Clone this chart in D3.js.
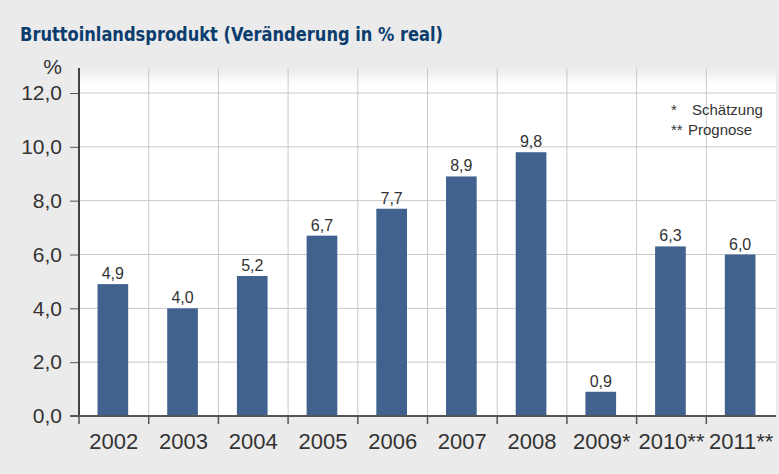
<!DOCTYPE html>
<html>
<head>
<meta charset="utf-8">
<script src="https://cdn.jsdelivr.net/npm/d3@7"></script>
<style>
  body { margin: 0; background: #ebebeb; }
  svg { display: block; }
</style>
</head>
<body>
<svg id="chart" width="779" height="474"></svg>
<script>
const years = ['2002', '2003', '2004', '2005', '2006', '2007', '2008', '2009*', '2010**', '2011**'];
const growth = [4.9, 4.0, 5.2, 6.7, 7.7, 8.9, 9.8, 0.9, 6.3, 6.0];
const yTicks = [0, 2, 4, 6, 8, 10, 12];
const noteMarks = ['*', '**'];
const noteTexts = ['Schätzung', 'Prognose'];

const svg = d3.select('#chart');
const W = 779, H = 474;
const plotL = 79, plotR = 776, plotT = 68, plotB = 416;
const fmt = v => d3.format('.1f')(v).replace('.', ',');
const font = 'Liberation Sans, Arial, sans-serif';

svg.append('rect').attr('width', W).attr('height', H).attr('fill', '#ebebeb');

// white plot area with faded top
const defs = svg.append('defs');
const grad = defs.append('linearGradient').attr('id', 'fade')
    .attr('x1', 0).attr('y1', 0).attr('x2', 0).attr('y2', 1);
grad.append('stop').attr('offset', '0%').attr('stop-color', '#ebebeb');
grad.append('stop').attr('offset', '100%').attr('stop-color', '#ffffff');
svg.append('rect').attr('x', plotL).attr('y', plotT).attr('width', plotR - plotL).attr('height', plotB - plotT).attr('fill', '#fff');
svg.append('rect').attr('x', plotL).attr('y', plotT).attr('width', plotR - plotL).attr('height', 16).attr('fill', 'url(#fade)');

svg.append('text')
    .attr('x', 20).attr('y', 41)
    .attr('font-family', 'DejaVu Sans Condensed, Liberation Sans Narrow, sans-serif')
    .attr('font-weight', 'bold').attr('font-size', 19)
    .attr('textLength', 423).attr('lengthAdjust', 'spacingAndGlyphs')
    .attr('fill', '#0a3c6e')
    .text('Bruttoinlandsprodukt (Veränderung in % real)');

const x = d3.scaleBand().domain(years).range([plotL, plotR]).paddingInner(0).paddingOuter(0);
const y = d3.scaleLinear().domain([0, 12]).range([plotB, 93]);

// horizontal gridlines
svg.append('g').selectAll('line').data(yTicks.filter(d => d > 0)).join('line')
    .attr('x1', plotL).attr('x2', plotR)
    .attr('y1', d => y(d)).attr('y2', d => y(d))
    .attr('stroke', '#c8c8c8').attr('stroke-width', 1);

// vertical gridlines
svg.append('g').selectAll('line').data(years.slice(1)).join('line')
    .attr('x1', d => x(d)).attr('x2', d => x(d))
    .attr('y1', plotT).attr('y2', plotB)
    .attr('stroke', '#c8c8c8').attr('stroke-width', 1);

// bars
const bw = x.bandwidth() * 0.44;
svg.append('g').selectAll('rect').data(growth).join('rect')
    .attr('x', (d, i) => x(years[i]) + x.bandwidth() / 2 - bw / 2 - 1)
    .attr('width', bw)
    .attr('y', d => y(d))
    .attr('height', d => plotB - y(d))
    .attr('fill', '#41628f');

// value labels
svg.append('g').selectAll('text').data(growth).join('text')
    .attr('x', (d, i) => x(years[i]) + x.bandwidth() / 2 - 1)
    .attr('y', d => y(d) - 5)
    .attr('text-anchor', 'middle')
    .attr('font-family', font)
    .attr('font-size', 16).attr('fill', '#333')
    .text(d => fmt(d));

// y axis
const yAxis = svg.append('g').attr('transform', `translate(${plotL},0)`)
    .call(d3.axisLeft(y).tickValues(yTicks).tickSize(9).tickPadding(8).tickFormat(fmt));
yAxis.select('.domain').remove();
yAxis.selectAll('.tick line').attr('stroke', '#555');
yAxis.selectAll('.tick text')
    .attr('font-family', font)
    .attr('font-size', 21).attr('fill', '#333');
svg.append('line').attr('x1', plotL).attr('x2', plotL).attr('y1', plotT).attr('y2', plotB)
    .attr('stroke', '#444').attr('stroke-width', 2);
svg.append('text').attr('x', 62).attr('y', 74).attr('text-anchor', 'end')
    .attr('font-family', font)
    .attr('font-size', 21).attr('fill', '#333').text('%');

// x axis
svg.append('line').attr('x1', 70).attr('x2', plotR).attr('y1', plotB).attr('y2', plotB)
    .attr('stroke', '#555').attr('stroke-width', 2);
svg.append('g').selectAll('line').data(years).join('line')
    .attr('x1', d => x(d)).attr('x2', d => x(d))
    .attr('y1', plotB).attr('y2', plotB + 8)
    .attr('stroke', '#555').attr('stroke-width', 1.5);
svg.append('g').selectAll('text').data(years).join('text')
    .attr('x', d => x(d) + x.bandwidth() / 2)
    .attr('y', 449)
    .attr('text-anchor', 'middle')
    .attr('font-family', font)
    .attr('font-size', 22).attr('fill', '#333')
    .text(d => d);

// notes
const notes = svg.append('g').attr('font-family', font).attr('font-size', 15).attr('fill', '#333');
notes.selectAll('text.mark').data(noteMarks).join('text')
    .attr('class', 'mark')
    .attr('x', 671).attr('y', (d, i) => 115 + i * 20)
    .text(d => d);
notes.selectAll('text.label').data(noteTexts).join('text')
    .attr('class', 'label')
    .attr('x', (d, i) => i === 0 ? 692 : 688).attr('y', (d, i) => 115 + i * 20)
    .text(d => d);
</script>
</body>
</html>
